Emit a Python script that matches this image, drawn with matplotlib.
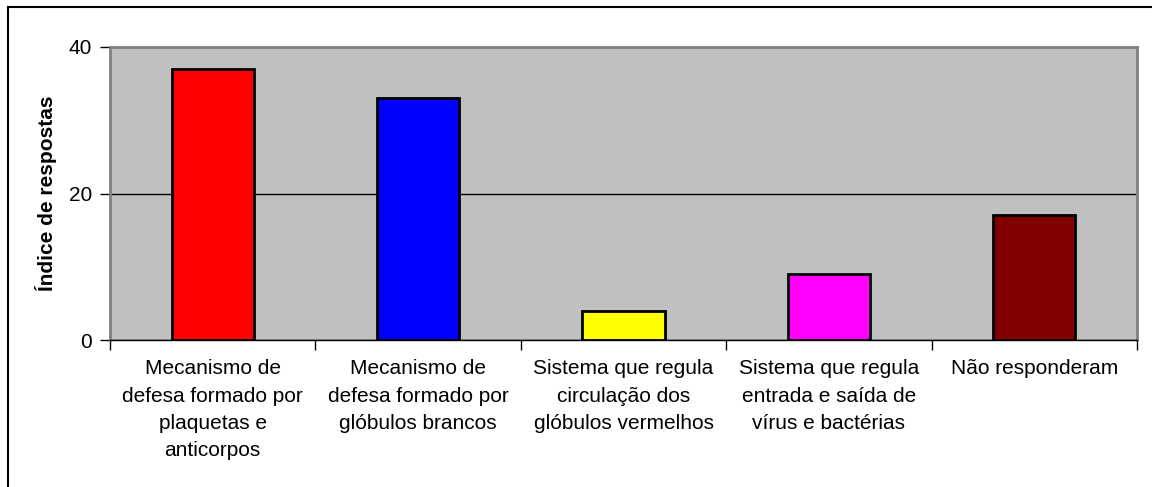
import matplotlib.pyplot as plt
from matplotlib.lines import Line2D

plt.rcParams['font.family'] = ['Liberation Sans', 'DejaVu Sans']

categories = [
    'Mecanismo de\ndefesa formado por\nplaquetas e\nanticorpos',
    'Mecanismo de\ndefesa formado por\nglóbulos brancos',
    'Sistema que regula\ncirculação dos\nglóbulos vermelhos',
    'Sistema que regula\nentrada e saída de\nvírus e bactérias',
    'Não responderam',
]
values = [37, 33, 4, 9, 17]
colors = ['#FF0000', '#0000FF', '#FFFF00', '#FF00FF', '#800000']
y_ticks = [0, 20, 40]

fig = plt.figure(figsize=(11.52, 4.87), dpi=100)
ax = fig.add_axes([110 / 1152, 1 - 340 / 487, 1027 / 1152, 293 / 487])

ax.set_facecolor('#C0C0C0')
x = list(range(len(values)))
ax.bar(x, values, width=0.4, color=colors, edgecolor='black', linewidth=2, zorder=3)

ax.set_xlim(-0.5, len(values) - 0.5)
ax.set_ylim(0, 40)
ax.set_yticks(y_ticks)
ax.set_yticklabels([str(t) for t in y_ticks], fontsize=15)
ax.yaxis.grid(True, color='black', linewidth=1, zorder=1)

# category boundaries as major ticks, labels on minor ticks
ax.set_xticks([i - 0.5 for i in range(len(values) + 1)])
ax.set_xticklabels([])
ax.set_xticks(x, minor=True)
ax.set_xticklabels(categories, minor=True, fontsize=15, linespacing=1.55, va='top')
ax.tick_params(axis='x', which='major', direction='out', length=7, width=1, color='black')
ax.tick_params(axis='x', which='minor', length=0, pad=14)
ax.tick_params(axis='y', direction='out', length=7, width=1, pad=6, color='black')

for side in ['top', 'right', 'left']:
    ax.spines[side].set_color('#808080')
    ax.spines[side].set_linewidth(2)
ax.spines['bottom'].set_color('black')
ax.spines['bottom'].set_linewidth(1)

ax.set_ylabel('Índice de respostas', fontsize=15, fontweight='bold', labelpad=8)

# outer chart frame (top and left edges)
fig.add_artist(Line2D([8 / 1152, 1], [1 - 7 / 487, 1 - 7 / 487], color='black', linewidth=1.5))
fig.add_artist(Line2D([8 / 1152, 8 / 1152], [0, 1 - 7 / 487], color='black', linewidth=1.5))

fig.savefig('out.png', dpi=100, facecolor='white')
